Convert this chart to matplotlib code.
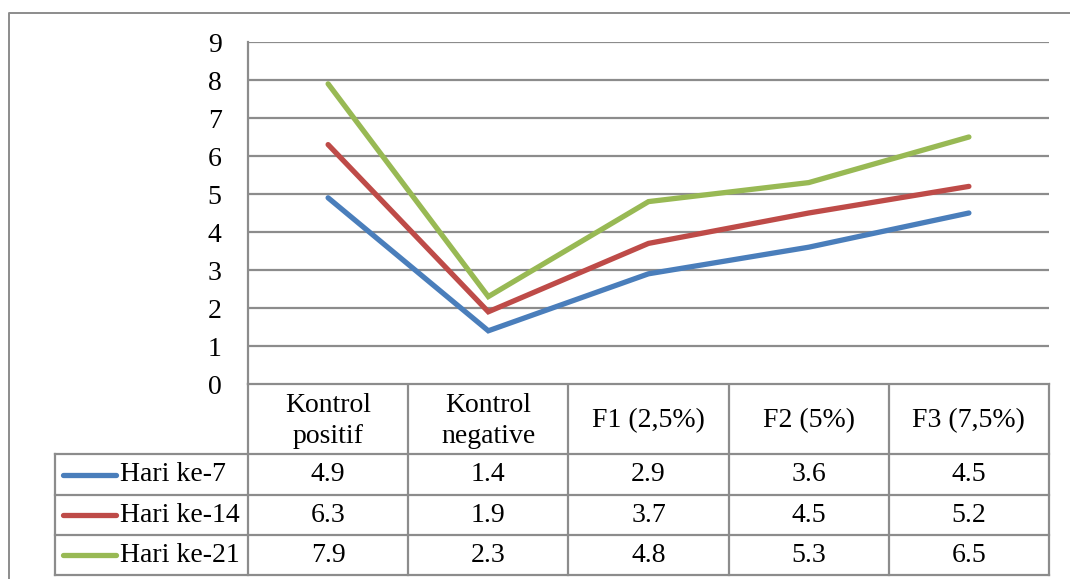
import matplotlib
matplotlib.use('Agg')
import matplotlib.pyplot as plt

plt.rcParams['font.family'] = ['Liberation Serif', 'DejaVu Serif']

categories = ['Kontrol\npositif', 'Kontrol\nnegative', 'F1 (2,5%)', 'F2 (5%)', 'F3 (7,5%)']
series_names = ['Hari ke-7', 'Hari ke-14', 'Hari ke-21']
hari_7 = [4.9, 1.4, 2.9, 3.6, 4.5]
hari_14 = [6.3, 1.9, 3.7, 4.5, 5.2]
hari_21 = [7.9, 2.3, 4.8, 5.3, 6.5]
series = [hari_7, hari_14, hari_21]
colors = ['#4A7EBB', '#BE4B48', '#98B954']
y_ticks = list(range(0, 10))

W, H = 1070, 579
grid_c = '#8C8C8C'
fs = 20

fig = plt.figure(figsize=(W / 100, H / 100), dpi=100)

# plot area in pixels
px_l, px_r, px_t, px_b = 248, 1049, 42, 384
ax = fig.add_axes([px_l / W, 1 - px_b / H, (px_r - px_l) / W, (px_b - px_t) / H])
n = len(categories)
for vals, c in zip(series, colors):
    ax.plot(range(n), vals, color=c, lw=3.8, solid_capstyle='round', solid_joinstyle='miter')
ax.set_xlim(-0.5, n - 0.5)
ax.set_ylim(0, 9)
ax.set_yticks(y_ticks)
ax.set_xticks([])
ax.grid(axis='y', color=grid_c, lw=1.6)
ax.set_axisbelow(True)
for s in ['top', 'right', 'bottom']:
    ax.spines[s].set_visible(False)
ax.spines['left'].set_color(grid_c)
ax.spines['left'].set_linewidth(1.6)
ax.tick_params(axis='y', length=0, pad=19, labelsize=fs)

# overlay in pixel coordinates for frame and data table
ov = fig.add_axes([0, 0, 1, 1], zorder=-1)
ov.set_xlim(0, W)
ov.set_ylim(H, 0)
ov.axis('off')
ov.patch.set_alpha(0)

# outer chart frame
ov.plot([9, 9, W], [H, 13, 13], color='#8C8C8C', lw=1.4)

col_w = (px_r - px_l) / n
row_tops = [px_b, 454, 495, 535, 575]
leg_l = 55
tab_lw = 1.6

# horizontal table lines
ov.plot([px_l, px_r], [px_b, px_b], color=grid_c, lw=tab_lw)
for y in row_tops[1:]:
    ov.plot([leg_l, px_r], [y, y], color=grid_c, lw=tab_lw)
# vertical table lines
for i in range(n + 1):
    x = px_l + i * col_w
    ov.plot([x, x], [px_b, row_tops[-1]], color=grid_c, lw=tab_lw)
ov.plot([leg_l, leg_l], [row_tops[1], row_tops[-1]], color=grid_c, lw=tab_lw)

# header
for i, cat in enumerate(categories):
    ov.text(px_l + (i + 0.5) * col_w, (row_tops[0] + row_tops[1]) / 2 + 2, cat,
            ha='center', va='center', fontsize=fs, linespacing=1.3)

# rows
for r, (name, vals, c) in enumerate(zip(series_names, series, colors)):
    yc = (row_tops[r + 1] + row_tops[r + 2]) / 2
    ov.plot([63, 116], [yc, yc], color=c, lw=3.8, solid_capstyle='round')
    ov.text(120, yc, name, ha='left', va='center', fontsize=fs)
    for i, v in enumerate(vals):
        ov.text(px_l + (i + 0.5) * col_w, yc, f'{v:.1f}', ha='center', va='center', fontsize=fs)

fig.savefig('out.png', dpi=100)
